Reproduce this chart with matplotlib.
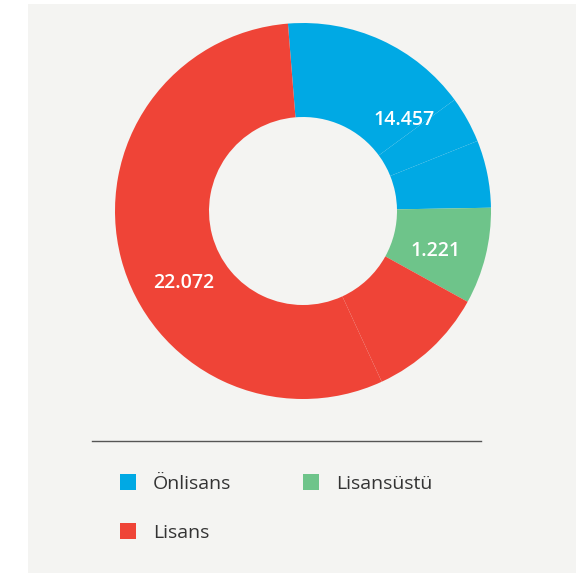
import numpy as np
import matplotlib
matplotlib.use("Agg")
import matplotlib.pyplot as plt
from matplotlib.patches import Rectangle

# ---- data (segment shares in %) ----
segment_shares = [16.2, 4.0, 5.8, 8.3, 10.1, 55.6]
segment_groups = ["Önlisans", "Önlisans", "Önlisans", "Lisansüstü", "Lisans", "Lisans"]
categories = ["Önlisans", "Lisansüstü", "Lisans"]
category_colors = ["#00A9E4", "#6EC48A", "#EF4437"]
value_labels = ["14.457", "1.221", "22.072"]
label_angles = [42.7, -15.8, 210.0]

W, H = 576, 573
fig = plt.figure(figsize=(W / 100, H / 100), dpi=100, facecolor="white")
ax = fig.add_axes([0, 0, 1, 1])
ax.set_xlim(0, W)
ax.set_ylim(0, H)
ax.axis("off")

# background panel
ax.add_patch(Rectangle((28, 0), W - 28, H - 4, facecolor="#F4F4F2", edgecolor="none", zorder=0))

cx, cy = 303, H - 211
R, w = 188, 94
cmap = dict(zip(categories, category_colors))
colors = [cmap[g] for g in segment_groups]
ax.pie(segment_shares, colors=colors, radius=R, center=(cx, cy), startangle=94.6,
       counterclock=False, wedgeprops=dict(width=w, linewidth=0), frame=True)
ax.set_xlim(0, W)
ax.set_ylim(0, H)
ax.set_aspect("auto")
ax.axis("off")

rl = R - w / 2 - 3
for txt, ang in zip(value_labels, label_angles):
    a = np.deg2rad(ang)
    ax.text(cx + rl * np.cos(a), cy + rl * np.sin(a), txt, color="white",
            fontsize=14, family="Open Sans", weight="semibold",
            ha="center", va="center_baseline", zorder=5)

# separator line
ax.plot([92, 481], [H - 441, H - 441], color="#555555", lw=1.0, zorder=3)

# legend
leg_pos = [(127.5, 481.5), (310.5, 481.5), (127.5, 531)]
for name, col, (x, y) in zip(categories, category_colors, leg_pos):
    ax.add_patch(Rectangle((x - 8, H - y - 8), 16, 16, facecolor=col, edgecolor="none", zorder=3))
    ax.text(x + 25.5, H - y - 7.5, name, color="#333333", fontsize=14,
            family="Open Sans", ha="left", va="baseline", zorder=3)

fig.savefig("out.png", dpi=100, facecolor="white")
